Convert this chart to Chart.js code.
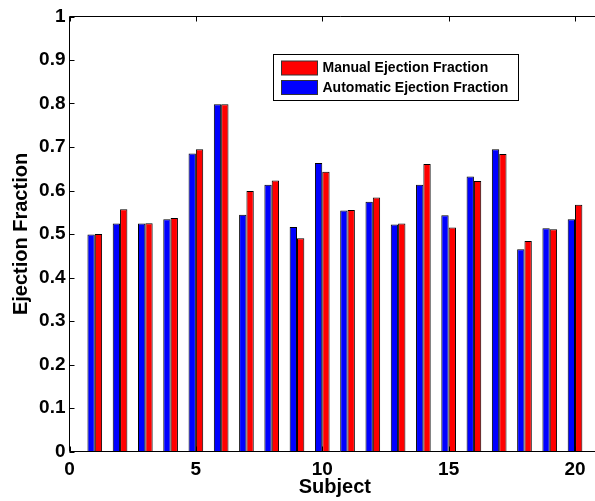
<!DOCTYPE html>
<html>
<head>
<meta charset="utf-8">
<script src="https://cdn.jsdelivr.net/npm/chart.js@4/dist/chart.umd.min.js"></script>
<style>
  html, body { margin: 0; padding: 0; background: #fff; overflow: hidden; }
  #wrap { width: 610px; height: 501px; }
</style>
</head>
<body>
<div id="wrap"><canvas id="ef-chart" width="610" height="501"></canvas></div>
<script>
const subjects = [1, 2, 3, 4, 5, 6, 7, 8, 9, 10, 11, 12, 13, 14, 15, 16, 17, 18, 19, 20];
const automaticEF = [0.499, 0.524, 0.524, 0.534, 0.685, 0.798, 0.544, 0.613, 0.516, 0.663,
                     0.554, 0.574, 0.522, 0.613, 0.543, 0.632, 0.695, 0.465, 0.513, 0.534];
const manualEF = [0.500, 0.557, 0.525, 0.537, 0.695, 0.798, 0.599, 0.623, 0.490, 0.643,
                  0.555, 0.584, 0.524, 0.661, 0.515, 0.622, 0.684, 0.484, 0.511, 0.567];
const xTicks = [0, 5, 10, 15, 20];

const FONT = "'Liberation Sans', Arial, sans-serif";

// box lines, inward ticks and the boxed legend (MATLAB style)
const matlabAxes = {
  id: "matlabAxes",
  afterDraw(chart) {
    const { ctx, chartArea: a, scales } = chart;
    const tl = 5;
    ctx.save();
    ctx.strokeStyle = "#000";
    ctx.lineWidth = 1;
    ctx.beginPath();
    ctx.moveTo(a.right + 20, a.top);
    ctx.lineTo(a.left, a.top);
    ctx.lineTo(a.left, a.bottom);
    ctx.lineTo(a.right + 20, a.bottom);
    scales.y.ticks.forEach((t) => {
      const py = Math.round(scales.y.getPixelForValue(t.value)) + 0.5;
      ctx.moveTo(a.left, py);
      ctx.lineTo(a.left + tl, py);
    });
    scales.x.ticks.forEach((t) => {
      const px = Math.round(scales.x.getPixelForValue(t.value)) + 0.5;
      ctx.moveTo(px, a.top);
      ctx.lineTo(px, a.top + tl);
      ctx.moveTo(px, a.bottom);
      ctx.lineTo(px, a.bottom - tl);
    });
    ctx.stroke();

    // legend
    const box = { x: 273.5, y: 54.5, w: 245, h: 46 };
    ctx.fillStyle = "#fff";
    ctx.fillRect(box.x, box.y, box.w, box.h);
    ctx.strokeRect(box.x, box.y, box.w, box.h);
    const items = chart.data.datasets.slice().reverse();
    ctx.font = "bold 14px " + FONT;
    ctx.textBaseline = "middle";
    items.forEach((ds, i) => {
      const cy = 68 + i * 19.5;
      ctx.fillStyle = ds.backgroundColor;
      ctx.fillRect(281.5, cy - 7, 36, 14);
      ctx.strokeStyle = "#333";
      ctx.strokeRect(281.5, cy - 7, 36, 14);
      ctx.fillStyle = "#000";
      ctx.fillText(ds.label, 322.5, cy + 0.5);
    });
    ctx.restore();
  }
};

new Chart(document.getElementById("ef-chart"), {
  type: "bar",
  data: {
    datasets: [{
      label: "Automatic Ejection Fraction",
      data: subjects.map((s, i) => ({ x: s, y: automaticEF[i] })),
      backgroundColor: "#0000ff",
      borderColor: "#000",
      borderWidth: 1
    }, {
      label: "Manual Ejection Fraction",
      data: subjects.map((s, i) => ({ x: s, y: manualEF[i] })),
      backgroundColor: "#ff0000",
      borderColor: "#000",
      borderWidth: 1
    }]
  },
  options: {
    responsive: false,
    animation: false,
    categoryPercentage: 0.58,
    barPercentage: 1,
    layout: { padding: { top: 16.5, right: 9.7, left: 0, bottom: 0 } },
    scales: {
      x: {
        type: "linear",
        min: 0,
        max: 21,
        offset: false,
        grid: { display: false, drawTicks: false },
        border: { display: false },
        afterBuildTicks(scale) {
          scale.ticks = xTicks.map((v) => ({ value: v }));
        },
        afterFit(scale) { scale.height = 49.5; },
        ticks: {
          color: "#000",
          padding: 7,
          maxRotation: 0,
          autoSkip: false,
          font: { family: FONT, size: 19, weight: "bold" },
          callback: (v) => String(v)
        },
        title: {
          display: true,
          text: "Subject",
          color: "#000",
          padding: { top: 0, bottom: 1.5 },
          font: { family: FONT, size: 20, weight: "bold" }
        }
      },
      y: {
        min: 0,
        max: 1,
        grid: { display: false, drawTicks: false },
        border: { display: false },
        afterFit(scale) { scale.width = 69.5; },
        ticks: {
          stepSize: 0.1,
          color: "#000",
          padding: 4,
          font: { family: FONT, size: 19, weight: "bold" },
          callback: (v) => String(Math.round(v * 10) / 10)
        },
        title: {
          display: true,
          text: "Ejection Fraction",
          color: "#000",
          padding: { top: 9, bottom: 0 },
          font: { family: FONT, size: 20, weight: "bold" }
        }
      }
    },
    plugins: {
      legend: { display: false },
      tooltip: { enabled: false }
    }
  },
  plugins: [matlabAxes]
});
</script>
</body>
</html>
